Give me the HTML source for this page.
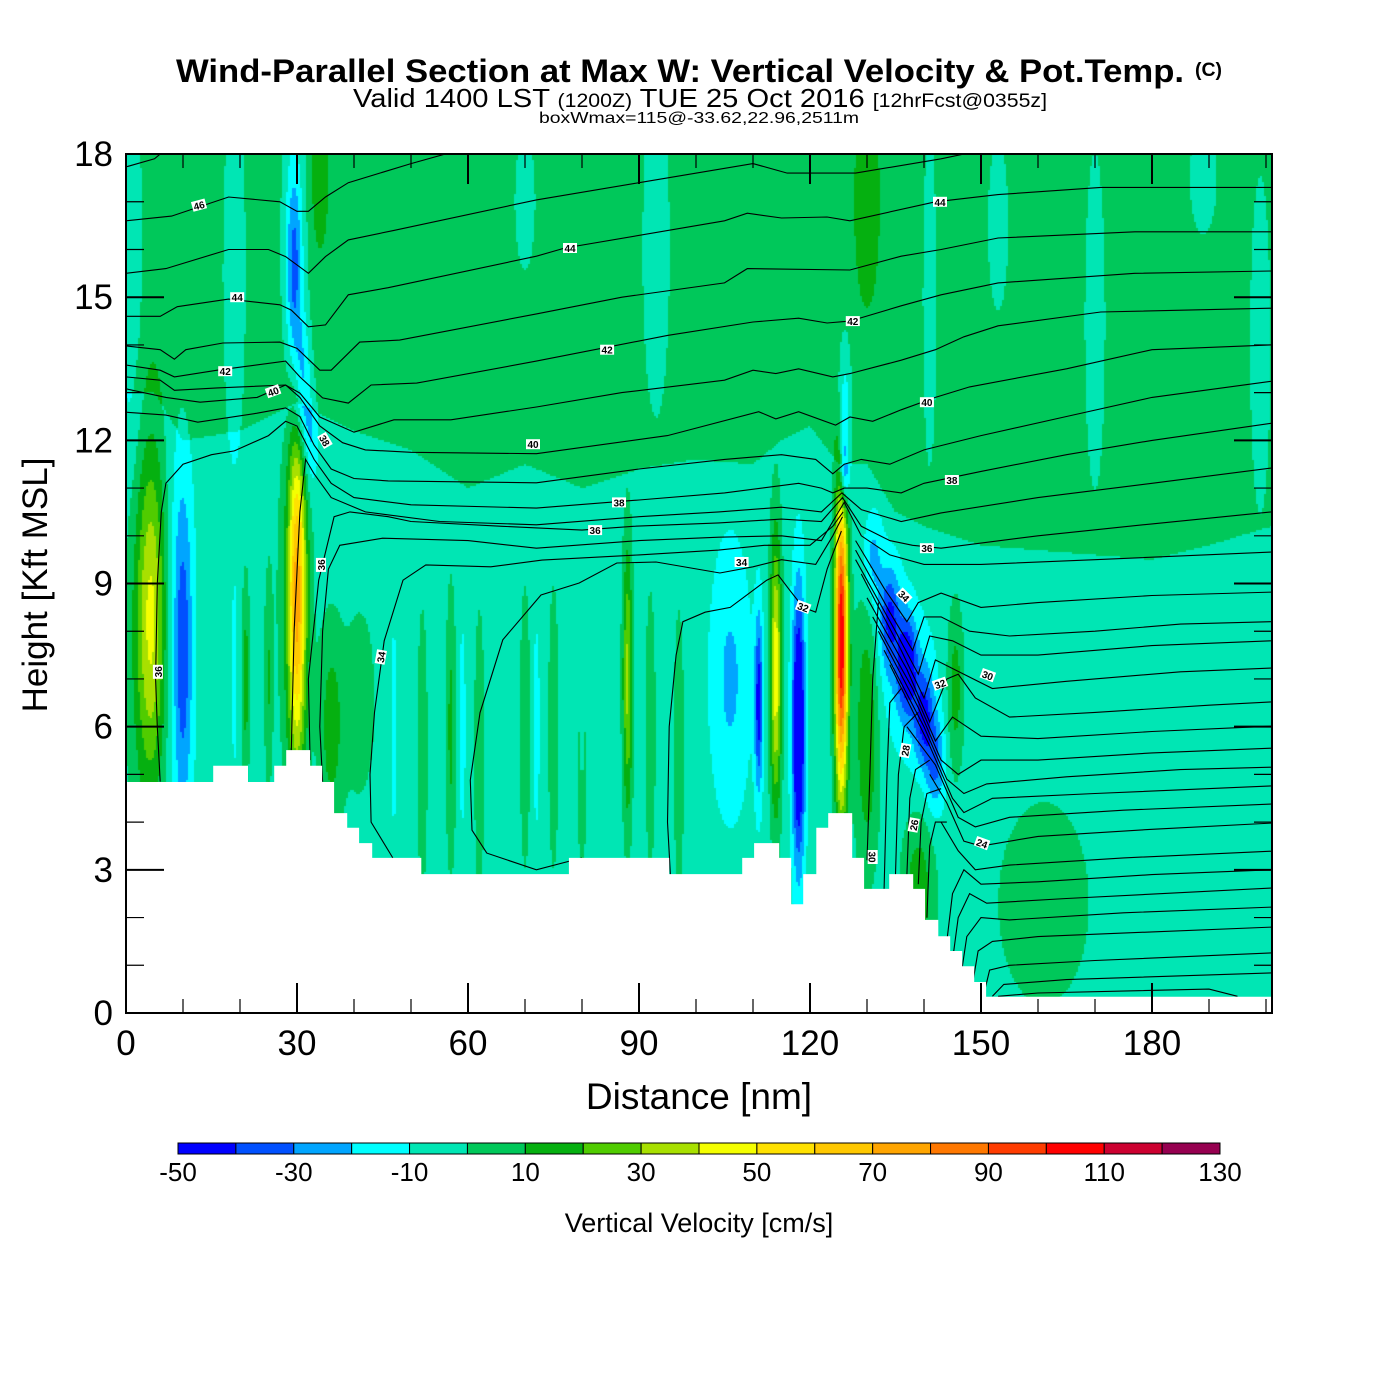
<!DOCTYPE html>
<html><head><meta charset="utf-8">
<style>
html,body{margin:0;padding:0;background:#fff;}
#wrap{position:relative;width:1400px;height:1400px;overflow:hidden;font-family:"Liberation Sans",Arial,sans-serif;}
canvas{position:absolute;left:126px;top:154px;}
svg{position:absolute;left:0;top:0;}
</style></head>
<body>
<div id="wrap">
<canvas id="field" width="1146" height="859"></canvas>
<svg id="svg" width="1400" height="1400">
  <text x="176" y="82" font-size="32" font-weight="bold" textLength="1008" lengthAdjust="spacingAndGlyphs">Wind-Parallel Section at Max W: Vertical Velocity &amp; Pot.Temp.</text>
  <text x="1195" y="76" font-size="19" font-weight="bold" textLength="27" lengthAdjust="spacingAndGlyphs">(C)</text>
  <text x="353" y="107" font-size="26" textLength="694" lengthAdjust="spacingAndGlyphs">Valid 1400 LST <tspan font-size="19">(1200Z)</tspan> TUE 25 Oct 2016 <tspan font-size="19">[12hrFcst@0355z]</tspan></text>
  <text x="539" y="123" font-size="16" textLength="320" lengthAdjust="spacingAndGlyphs">boxWmax=115@-33.62,22.96,2511m</text>
  <g id="contours"></g>
  <g id="labels"></g>
  <g id="terrain"></g>
  <g id="axes"></g>
  <text x="699" y="1109" text-anchor="middle" font-size="37">Distance [nm]</text>
  <text transform="translate(47,585) rotate(-90)" text-anchor="middle" font-size="35">Height [Kft MSL]</text>
  <g id="cbar"></g>
  <text x="699" y="1232" text-anchor="middle" font-size="27">Vertical Velocity [cm/s]</text>
</svg>
</div>
<script>
// ---------- data ----------
const levelColors = ["#0000ff","#0050ff","#00a5ff","#00ffff","#00e6b4","#00c85a","#05b010","#50cc00","#a8e000","#f5ff00","#ffe100","#ffc800","#ffa500","#ff7800","#ff3c00","#ff0000","#cc0030","#960050"];
const levelTicks = [-50,-30,-10,10,30,50,70,90,110,130];
const xTicks = [0,30,60,90,120,150,180];
const yTicks = [0,3,6,9,12,15,18];
// base field: green above this height (kft) at these distances (nm)
const baseX = [0,5,10,20,25,30,35,40,50,60,70,80,90,100,110,115,120,125,130,135,140,150,160,170,180,190,201];
const baseTop = [13.0,13.0,12.0,12.2,12.5,12.8,12.5,12.2,11.8,11.0,11.5,11.0,11.4,11.6,11.5,12.0,12.3,11.5,11.5,10.5,10.2,9.8,9.7,9.6,9.5,9.8,10.2];
// velocity cells: centre distance, centre height, x spread, h spread, amplitude (cm/s)
const cellX  = [1,19,29.5,31,32.5,34,70,93,126,126,130,141,153,170,189,199,4.5,21,25,30,29.5,19,36,41,47,52,57,59,62,70,72,75,80,80,88,92,97,106,111,114,118,125.5,130,131,134,137,140,142,134,139,145.5,139,161,9.5,10,3,29.5];
const cellH  = [15.5,15.5,15.5,13.2,12.0,17.5,17,16,12.7,11.4,17,15,16.5,14.5,17.5,14,8.3,7,7,8.8,9,7,6,6.5,6,5.5,6,6,5.5,6,6,6,6,5.5,7,6,5.5,7,6.5,7.2,6,7.8,6,9.5,8.3,7.3,6.2,5.2,7.6,6.5,6.8,2.5,2.3,8,7.5,8,16];
const cellSX = [1.5,1.5,1.0,1.0,0.9,1,1.5,2,0.8,0.6,1.5,1,1.5,1.5,2,1.5,1.8,0.5,0.5,1.1,2.2,0.3,1.5,2.2,0.4,0.6,0.6,0.4,0.6,0.6,0.4,0.6,0.4,0.6,0.6,0.6,0.6,2.5,0.5,0.7,0.8,0.8,1.5,1.2,1.2,1.2,1.2,1.2,2.5,2.5,1,2,6,1.8,1.1,2.5,1.6];
const cellSH = [3,3,1.5,1,0.8,1,1.2,3,1,0.6,1.5,3,1.5,3,1,3,2.5,1.5,1.5,2.5,3,1.5,1.5,1.6,1.5,2,2,1.5,2,2,1.5,2,1.5,2,2,2,2,2,1.3,2,2,2.3,2,0.7,0.7,0.7,0.7,0.7,1.3,1.3,1.2,1.2,1.6,3,2.3,3,3];
const cellAmp= [-12,-12,-30,-28,-15,15,-10,-10,-25,-35,15,-10,-10,-10,-10,-10,38,20,15,70,12,-10,20,10,-12,15,18,-12,15,15,-12,15,-12,15,38,15,15,-17,-40,52,-60,115,25,-20,-30,-40,-30,-25,-10,-10,20,22,12,-12,-22,12,-12];
// terrain steps (nm, kft)
const terrX = [0,15.3,21.4,26.0,28.1,32.3,34.4,36.5,38.8,40.9,43.2,51.8,77.7,95.3,108.1,110.2,114.6,116.7,118.8,121.1,123.2,127.4,129.5,133.9,138.1,140.2,142.5,144.6,146.7,148.8,150.9,151.9,201];
const terrH = [4.84,5.18,4.84,5.18,5.51,5.18,4.84,4.19,3.88,3.56,3.25,2.91,3.25,2.91,3.25,3.56,3.25,2.28,2.91,3.88,4.19,3.25,2.60,2.91,2.60,1.95,1.61,1.30,0.98,0.65,0.34,0.34,0.34];
// isentropes (nm, kft point lists)
const L47=[[0,17.73],[5,17.9],[8,18.2]];
const L46=[[0,16.6],[8,16.7],[18,17.1],[27,17.0],[30,16.8],[32,16.8],[35,17.1],[39,17.4],[50,17.8],[62,18.2]];
const L45=[[0,15.5],[7,15.6],[18,16.0],[25,16.0],[28,15.85],[32,15.5],[35,15.85],[39,16.2],[47,16.4],[72,17.04],[90,17.4],[110,17.8],[116,17.6],[128,17.6],[143,17.9],[155,18.2]];
const L44=[[0,14.6],[6,14.6],[9,14.8],[18,14.96],[27,14.84],[29,14.73],[32,14.38],[35,14.42],[39,15.05],[46,15.2],[72,15.86],[77,16.03],[105,16.6],[109,16.76],[115,16.66],[123,16.68],[127,16.6],[142,17.0],[153,17.15],[171,17.3],[201,17.3]];
const L43=[[0,13.98],[6,13.9],[8.5,13.7],[10.5,13.9],[17,14.04],[27,14.06],[30,13.93],[34,13.47],[36,13.47],[41,14.06],[48,14.1],[72,14.65],[87,15.0],[105,15.3],[109,15.6],[127,15.57],[136,15.86],[143,16.0],[153,16.24],[177,16.37],[201,16.37]];
const L42=[[0,13.58],[6,13.47],[8.5,13.33],[16,13.47],[28,13.66],[30.5,13.33],[34.5,12.89],[39,12.78],[43,13.16],[51,13.2],[72,13.66],[95,14.2],[110,14.48],[118,14.56],[123,14.46],[127,14.5],[136,14.82],[143,15.05],[153,15.3],[177,15.5],[201,15.55]];
const L41=[[0,13.33],[6,13.26],[8.5,13.05],[16,13.1],[28,13.16],[30.5,12.99],[34,12.49],[40,12.17],[47,12.43],[57,12.43],[72,12.7],[87,13.0],[105,13.26],[110,13.47],[114,13.4],[118,13.5],[124,13.33],[127,13.4],[136,13.68],[142,13.9],[147,14.17],[153,14.4],[171,14.69],[201,14.77]];
const L40=[[0,13.08],[7,12.9],[13,12.8],[23,12.9],[28,13.16],[30.5,12.9],[34,12.3],[38,11.95],[42,11.8],[50,11.75],[72,11.72],[95,12.1],[111,12.6],[114,12.45],[118,12.6],[124.5,12.32],[127,12.49],[131,12.4],[136,12.64],[142,12.9],[148,13.12],[165,13.5],[180,13.9],[201,14.0]];
const L39=[[0,12.59],[7,12.53],[12.6,12.38],[23,12.57],[28,12.68],[30.5,12.5],[33,11.9],[36,11.4],[40,11.2],[46,11.15],[72,11.11],[90,11.4],[105,11.6],[115,11.7],[121,11.6],[124,11.3],[126,11.5],[129,11.6],[134,11.5],[140,11.8],[150,12.1],[165,12.5],[180,12.9],[201,13.24]];
const L38=[[6,4.85],[5.5,6],[5.2,7],[5.5,9],[6.2,10.5],[7,11.1],[10,11.5],[15,11.7],[19,11.78],[25,12.1],[28,12.4],[30,12.3],[33,11.6],[36,11.1],[40,10.8],[50,10.65],[72,10.58],[90,10.75],[105,10.9],[118,11.1],[122,11.0],[124,10.9],[126,11.0],[130,11.0],[136,10.9],[140,11.1],[150,11.35],[165,11.7],[180,12.0],[201,12.36]];
const L37=[[29,5.5],[29.5,8],[30.5,10.5],[31.5,11.6],[33,11.3],[36,10.8],[42,10.5],[55,10.3],[72,10.23],[90,10.4],[104,10.5],[115,10.6],[122,10.5],[125.6,10.9],[129,10.55],[136,10.3],[143,10.48],[160,10.8],[180,11.1],[201,11.42]];
const L36=[[32.3,5.3],[32,7.0],[33.8,9.07],[36.5,10.4],[39.3,10.5],[46,10.4],[50,10.3],[66,10.2],[80,10.12],[89,10.2],[104,10.27],[115,10.35],[122,10.3],[125.7,10.8],[129,10.2],[134,9.9],[138,9.8],[143,9.74],[160,10.0],[180,10.25],[201,10.5]];
const L35=[[34.5,4.85],[34,6],[34.5,8.0],[35.5,9.3],[37.5,9.8],[45,9.95],[60,9.9],[72,9.74],[90,9.9],[104,9.97],[115,10.0],[122,9.9],[125,10.5],[126,10.7],[129,10.0],[134,9.6],[140,9.4],[150,9.4],[170,9.5],[201,9.66]];
const L34=[[46.8,3.25],[43,4.0],[42.8,5],[43.6,6.3],[45.3,7.8],[48.6,9.07],[52.6,9.39],[64,9.35],[73,9.49],[90,9.6],[104,9.7],[112,9.8],[120,9.8],[124,10.2],[125.8,10.5]];
const L33=[[80,3.25],[72,3.0],[63.3,3.35],[60.7,3.83],[60.4,4.88],[62.1,6.29],[66.1,7.82],[72.8,8.76],[79.5,9.01],[86.1,9.43],[93,9.45],[104.2,9.22],[110,9.35],[115,9.5],[121,9.4],[124,10],[125.7,10.4]];
const L32=[[95.5,2.9],[95,4],[95.3,6],[96.5,7.5],[97.7,8.2],[101.6,8.4],[106,8.5],[112.4,9.07],[114.4,9.18],[116.5,8.85],[118.8,8.5],[121,8.4],[123,9.3],[125.5,10.1]];
const R1=[[128,9.9],[133,8.9],[137,8.2],[139,8.6],[143,8.8],[150,8.5],[160,8.6],[180,8.75],[201,8.82]];
const R2=[[128,9.7],[134,8.4],[138,7.6],[140,8.3],[143,8.3],[148,8.0],[155,7.9],[170,8.0],[185,8.15],[201,8.2]];
const R3=[[128,9.5],[135,8.0],[139,7.1],[141,7.9],[145,7.8],[150,7.5],[160,7.5],[180,7.7],[201,7.8]];
const R4=[[129,9.2],[136,7.6],[140,6.6],[142,7.4],[147,7.1],[152,6.8],[165,6.95],[185,7.15],[201,7.23]];
const R5=[[130,8.7],[137,7.2],[141,6.1],[144,7.0],[146,7.1],[149,6.6],[155,6.2],[170,6.3],[190,6.45],[201,6.52]];
const R6=[[131,8.3],[138,6.8],[142,5.7],[145,6.2],[150,5.8],[160,5.75],[180,5.9],[201,6.01]];
const R7=[[132,8.0],[139,6.4],[143,5.3],[146,5.0],[150,5.3],[160,5.3],[180,5.45],[201,5.55]];
const R8=[[133,7.6],[140,6.0],[144,4.9],[147,4.6],[151,4.8],[165,4.95],[185,5.1],[201,5.15]];
const R9=[[134,7.3],[141,5.6],[145,4.5],[147,4.2],[152,4.5],[170,4.6],[201,4.76]];
const R10=[[137,6.0],[142,5.2],[146,4.1],[149,3.9],[155,4.1],[175,4.25],[201,4.38]];
const R11=[[141,5.0],[144,4.4],[147,3.6],[150,3.5],[160,3.7],[180,3.85],[201,3.98]];
const R12=[[143,4.0],[146,3.4],[149,3.0],[155,3.1],[175,3.25],[201,3.39]];
const R13=[[144,1.5],[145,2.5],[147,3.0],[150,2.7],[160,2.75],[180,2.9],[201,3.0]];
const R14=[[145,1.1],[146,2.0],[148,2.5],[151,2.3],[165,2.4],[201,2.62]];
const R15=[[146.5,0.8],[147.5,1.6],[150,2.0],[155,1.95],[175,2.1],[201,2.22]];
const R16=[[148.5,0.6],[149.5,1.3],[152,1.5],[160,1.6],[180,1.7],[201,1.8]];
const R17=[[150.5,0.4],[151.5,0.9],[155,1.0],[170,1.1],[201,1.26]];
const R18=[[152,0.35],[154,0.6],[165,0.7],[201,0.84]];
const R19=[[153,0.35],[160,0.42],[190,0.5],[195,0.35]];
const V1=[[130,3.2],[130.5,5],[131,7],[132,8.6]];
const V2=[[133,2.6],[133.5,5],[134,6.5],[136,6.8]];
const V3=[[135,2.9],[135.5,5],[136.5,6.0],[139,6.3]];
const V4=[[137,2.9],[137.5,4.5],[138.5,5.1],[141,5.3]];
const V5=[[139,2.7],[139.5,4],[140.5,4.6],[143,4.7]];
const V6=[[140.5,2.0],[141,3.5],[142,4.0],[144,4.0]];
const contourLines=[L47,L46,L45,L44,L43,L42,L41,L40,L39,L38,L37,L36,L35,L34,L33,L32,R1,R2,R3,R4,R5,R6,R7,R8,R9,R10,R11,R12,R13,R14,R15,R16,R17,R18,R19,V1,V2,V3,V4,V5,V6];
// contour labels
const labText=["46","44","42","40","38","36","36","34","44","42","40","38","36","34","32","44","42","40","38","36","34","32","30","28","26","24","30"];
const labX=[12.8,19.5,17.4,25.8,34.9,34.2,5.6,44.7,77.9,84.4,71.4,86.5,82.3,108,118.8,142.8,127.5,140.5,144.9,140.5,136.5,142.8,151.2,136.7,138.2,150.2,131];
const labH=[16.93,15.0,13.45,13.03,12.0,9.39,7.15,7.46,16.03,13.9,11.92,10.7,10.12,9.45,8.51,17.0,14.5,12.8,11.17,9.74,8.74,6.9,7.08,5.5,3.94,3.56,3.27];
const labRot=[-15,0,0,-20,60,-90,-90,-80,0,0,0,0,0,0,20,0,0,0,0,0,45,-20,20,-80,-80,20,90];

// ---------- scales ----------
const PX0=126, PX1=1272, PY0=154, PY1=1013;
function sx(d){return PX0+d*5.7;}
function sy(h){return PY1-h*47.72;}
const NS="http://www.w3.org/2000/svg";
function mk(tag,attrs,parent){const e=document.createElementNS(NS,tag);for(const k in attrs)e.setAttribute(k,attrs[k]);parent.appendChild(e);return e;}
function interp(xs,ys,x){if(x<=xs[0])return ys[0];for(let i=1;i<xs.length;i++){if(x<=xs[i]){const t=(x-xs[i-1])/(xs[i]-xs[i-1]);return ys[i-1]+t*(ys[i]-ys[i-1]);}}return ys[ys.length-1];}

// ---------- field ----------
const cv=document.getElementById('field');const ctx=cv.getContext('2d');
const STEP=2;
for(let py=0;py<859;py+=STEP){
  const h=(859-py-STEP/2)/47.72;
  for(let px=0;px<1146;px+=STEP){
    const d=(px+STEP/2)/5.7;
    let v=(h>interp(baseX,baseTop,d))?5:-5;
    for(let i=0;i<cellX.length;i++){
      const dx=(d-cellX[i])/cellSX[i], dh=(h-cellH[i])/cellSH[i];
      const e=dx*dx+dh*dh; if(e<20) v+=cellAmp[i]*Math.exp(-0.5*e);
    }
    let k=Math.floor((v+50)/10); if(k<0)k=0; if(k>17)k=17;
    ctx.fillStyle=levelColors[k]; ctx.fillRect(px,py,STEP,STEP);
  }
}

// ---------- contours ----------
const cg=document.getElementById('contours');
const clip=mk('clipPath',{id:'pc'},mk('defs',{},document.getElementById('svg')));
mk('rect',{x:PX0,y:PY0,width:PX1-PX0,height:PY1-PY0},clip);
cg.setAttribute('clip-path','url(#pc)');
contourLines.forEach(function(line){
  const p=mk('polyline',{points:line.map(q=>sx(q[0]).toFixed(1)+','+sy(q[1]).toFixed(1)).join(' '),fill:'none',stroke:'#000','stroke-width':1.1},cg);
  
  
});
const lg=document.getElementById('labels');
labText.forEach(function(t,i){
  const g=mk('g',{transform:'translate('+sx(labX[i]).toFixed(1)+','+sy(labH[i]).toFixed(1)+') rotate('+labRot[i]+')'},lg);
  
  
  mk('rect',{x:-7,y:-5,width:14,height:10,fill:'#fff'},g);
  const tx=mk('text',{x:0,y:4,'text-anchor':'middle','font-size':10,'font-weight':'bold'},g);
  tx.textContent=t;
});

// ---------- terrain ----------
const tg=document.getElementById('terrain');
let pts=[];
for(let i=0;i<terrX.length-1;i++){pts.push([sx(terrX[i]),sy(terrH[i])]);pts.push([sx(terrX[i+1]),sy(terrH[i])]);}
pts[pts.length-1][0]=PX1;
let d='M'+PX0+','+PY1+' '+pts.map(p=>'L'+p[0].toFixed(1)+','+p[1].toFixed(1)).join(' ')+' L'+PX1+','+PY1+'Z';
const tp=mk('path',{d:d,fill:'#fff'},tg);



// ---------- axes ----------
const ag=document.getElementById('axes');
const frame=mk('rect',{x:PX0,y:PY0,width:PX1-PX0,height:PY1-PY0,fill:'none',stroke:'#000','stroke-width':2},ag);


for(let v=0;v<=200;v+=10){
  const x=sx(v), L=(v%30===0)?30:14;
  const t1=mk('line',{x1:x,y1:PY1,x2:x,y2:PY1-L,stroke:'#000','stroke-width':v%30===0?2:1.2},ag);
  
  
  const t2=mk('line',{x1:x,y1:PY0,x2:x,y2:PY0+L,stroke:'#000','stroke-width':v%30===0?2:1.2},ag);
  
  
}
for(let v=0;v<=18;v+=1){
  const y=sy(v), L=(v%3===0)?38:18;
  const t1=mk('line',{x1:PX0,y1:y,x2:PX0+L,y2:y,stroke:'#000','stroke-width':v%3===0?2:1.2},ag);
  
  
  const t2=mk('line',{x1:PX1,y1:y,x2:PX1-L,y2:y,stroke:'#000','stroke-width':v%3===0?2:1.2},ag);
  
  
}
xTicks.forEach(function(v){
  const t=mk('text',{x:sx(v),y:1055,'text-anchor':'middle','font-size':35},ag);
  
  
  t.textContent=v;
});
yTicks.forEach(function(v){
  const t=mk('text',{x:113,y:sy(v)+12,'text-anchor':'end','font-size':35},ag);
  
  
  t.textContent=v;
});

// ---------- colorbar ----------
const cb=document.getElementById('cbar');
const CB0=178, CB1=1220, CBW=(CB1-CB0)/levelColors.length;
levelColors.forEach(function(c,i){
  const r=mk('rect',{x:(CB0+i*CBW).toFixed(2),y:1143,width:CBW.toFixed(2),height:11,fill:c,stroke:'#000','stroke-width':1},cb);
  
  
});
levelTicks.forEach(function(v){
  const x=CB0+(v+50)/10*CBW;
  const t=mk('text',{x:x,y:1181,'text-anchor':'middle','font-size':26},cb);
  
  
  t.textContent=v;
});
</script>
</body></html>
